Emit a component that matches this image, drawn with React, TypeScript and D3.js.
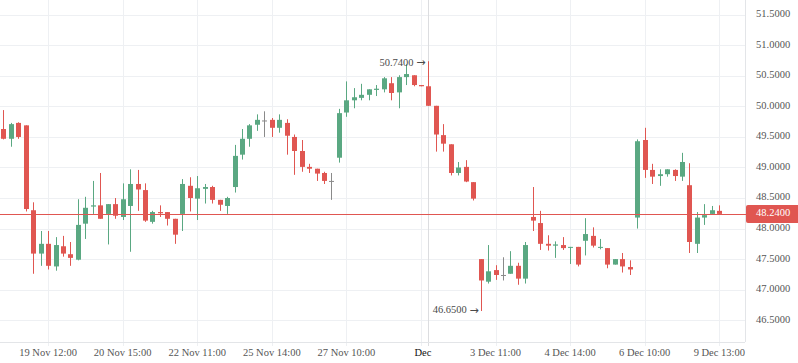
import React from "react";
import * as d3 from "d3";

const opens = [49.63,49.47,49.73,49.69,48.30,47.59,47.75,47.38,47.71,47.58,47.49,48.08,48.36,48.38,48.24,48.40,48.19,48.37,48.73,48.63,48.11,48.27,48.27,48.16,48.24,48.70,48.49,48.65,48.68,48.47,48.37,48.68,49.21,49.47,49.70,49.77,49.78,49.65,49.73,49.50,49.27,49.01,48.98,48.91,48.78,49.16,49.90,50.10,50.14,50.19,50.27,50.28,50.38,50.23,50.48,50.51,50.35,50.33,50.01,49.53,49.38,48.91,49.01,48.76,47.50,47.13,47.32,47.24,47.26,47.39,47.18,48.19,48.09,47.75,47.72,47.73,47.69,47.70,47.80,47.88,47.69,47.68,47.41,47.50,47.37,48.18,49.45,48.96,48.86,48.89,48.96,48.85,48.71,47.75,48.18,48.24,48.29];
const highs = [49.94,49.73,49.74,49.69,48.43,47.96,47.96,47.86,47.88,47.78,48.48,48.52,48.78,48.91,48.40,48.50,48.74,48.97,48.96,48.74,48.29,48.38,48.27,48.16,48.81,48.84,48.86,48.73,48.70,48.47,48.52,49.37,49.63,49.71,49.87,49.92,49.81,49.87,49.79,49.54,49.45,49.06,48.98,48.93,48.91,49.96,50.41,50.30,50.37,50.28,50.35,50.48,50.48,50.51,50.69,50.51,50.35,50.74,50.01,49.71,49.38,49.09,49.12,48.76,47.50,47.73,47.40,47.53,47.63,47.44,47.78,48.68,48.29,47.89,47.79,47.86,47.70,47.70,48.17,48.02,47.83,47.68,47.50,47.60,47.48,49.46,49.65,49.06,48.97,48.97,48.97,49.24,49.07,48.27,48.40,48.37,48.38];
const lows = [49.46,49.34,49.47,48.28,47.26,47.39,47.33,47.31,47.54,47.39,47.48,47.83,48.24,48.16,47.74,48.16,48.14,47.62,48.29,48.11,48.08,48.19,48.05,47.75,47.96,48.28,48.14,48.41,48.41,48.29,48.24,48.59,49.13,49.34,49.60,49.50,49.50,49.57,49.21,48.88,48.93,48.91,48.78,48.73,48.47,49.08,49.83,49.97,50.10,50.10,50.17,50.23,50.10,49.97,50.35,50.33,50.33,50.01,49.26,49.26,48.87,48.87,48.76,48.46,46.65,47.10,47.16,47.15,47.26,47.08,47.10,47.96,47.65,47.64,47.52,47.65,47.42,47.38,47.56,47.69,47.66,47.35,47.41,47.28,47.24,48.00,48.83,48.73,48.70,48.85,48.78,48.78,47.60,47.60,48.06,48.23,48.24];
const closes = [49.47,49.71,49.50,48.32,47.59,47.75,47.39,47.73,47.59,47.52,48.06,48.34,48.38,48.16,48.40,48.21,48.48,48.73,48.64,48.13,48.27,48.25,48.16,47.90,48.73,48.50,48.66,48.68,48.47,48.39,48.50,49.19,49.47,49.69,49.78,49.77,49.65,49.78,49.52,49.27,49.01,48.98,48.90,48.78,48.78,49.89,50.10,50.15,50.19,50.28,50.29,50.46,50.22,50.48,50.53,50.35,50.33,50.01,49.54,49.39,48.91,49.00,48.77,48.49,47.15,47.30,47.24,47.24,47.39,47.18,47.73,48.13,47.75,47.72,47.74,47.68,47.70,47.41,47.91,47.72,47.70,47.41,47.50,47.38,47.33,49.43,48.96,48.85,48.89,48.97,48.86,49.09,47.78,48.18,48.22,48.30,48.24];

const timeTickIndex = [6, 16, 26, 36, 46, 56, 66, 76, 86, 96];
const timeTickLabels = ["19 Nov 12:00","20 Nov 15:00","22 Nov 11:00","25 Nov 14:00","27 Nov 10:00","Dec","3 Dec 11:00","4 Dec 14:00","6 Dec 10:00","9 Dec 13:00"];
const priceTicks = [46.5,47.0,47.5,48.0,48.5,49.0,49.5,50.0,50.5,51.0,51.5];
const lastPrice = 48.24;
const crosshairIndex = 57;
const highMarkIndex = 57;
const highMarkValue = 50.74;
const lowMarkIndex = 64;
const lowMarkValue = 46.65;

const W = 798, H = 363;
const plotRight = 745, plotBottom = 342;
const UP = "#5aa882", DOWN = "#e05651", NEUTRAL = "#8a8a8a";
const GRID = "#eef0f3";
const FONT = "'Liberation Serif', 'Times New Roman', serif";
const ARROW_FONT = "'DejaVu Sans', sans-serif";

export default function App() {
  const x = d3.scaleLinear().domain([0, 96]).range([3.3, 719.3]);
  const y = d3.scaleLinear().domain([46.1425, 51.7425]).range([plotBottom, 0]);
  const bw = 5;
  return (
    <svg width={W} height={H} style={{ position: "fixed", left: 0, top: 0, background: "#fff" }}>
      <rect x={0} y={0} width={W} height={H} fill="#fff" />
      {priceTicks.map((p) => (
        <line key={"hg" + p} x1={0} x2={plotRight} y1={Math.round(y(p)) + 0.5} y2={Math.round(y(p)) + 0.5} stroke={GRID} strokeWidth={1} />
      ))}
      {timeTickIndex.map((i) => (
        <line key={"vg" + i} x1={Math.round(x(i)) + 0.5} x2={Math.round(x(i)) + 0.5} y1={0} y2={plotBottom + 4} stroke={GRID} strokeWidth={1} />
      ))}
      <line x1={Math.round(x(crosshairIndex)) + 0.5} x2={Math.round(x(crosshairIndex)) + 0.5} y1={0} y2={plotBottom + 4} stroke="#dcdde0" strokeWidth={1} />
      <line x1={plotRight + 0.5} x2={plotRight + 0.5} y1={0} y2={plotBottom} stroke="#e3e5e8" />
      <line x1={0} x2={plotRight} y1={plotBottom + 0.5} y2={plotBottom + 0.5} stroke="#e3e5e8" />
      {opens.map((o, i) => {
        const c = closes[i];
        const col = c > o ? UP : c < o ? DOWN : NEUTRAL;
        const cx = Math.round(x(i));
        const top = y(Math.max(o, c));
        const bot = y(Math.min(o, c));
        return (
          <g key={"c" + i}>
            <rect x={cx} y={y(highs[i])} width={1} height={Math.max(1, y(lows[i]) - y(highs[i]))} fill={col} />
            <rect x={cx - 2} y={top} width={bw} height={Math.max(1, bot - top)} fill={col} />
          </g>
        );
      })}
      <line x1={0} x2={plotRight + 3} y1={Math.round(y(lastPrice)) + 0.5} y2={Math.round(y(lastPrice)) + 0.5} stroke={DOWN} strokeWidth={1} />
      <text x={x(highMarkIndex) - 3} y={y(highMarkValue) + 2} textAnchor="end" dominantBaseline="middle" fontFamily={FONT} fontSize={10.5} fill="#4a4a4a">
        {highMarkValue.toFixed(4)} <tspan fontFamily={ARROW_FONT} fontSize={11}>→</tspan>
      </text>
      <text x={x(lowMarkIndex) - 2} y={y(lowMarkValue)} textAnchor="end" dominantBaseline="middle" fontFamily={FONT} fontSize={10.5} fill="#4a4a4a">
        {lowMarkValue.toFixed(4)} <tspan fontFamily={ARROW_FONT} fontSize={11}>→</tspan>
      </text>
      {priceTicks.map((p) => (
        <text key={"pt" + p} x={756} y={y(p)} dominantBaseline="middle" fontFamily={FONT} fontSize={10.5} fill="#555">{p.toFixed(4)}</text>
      ))}
      <path d={`M${plotRight + 3},${y(lastPrice) - 9} H${W} V${y(lastPrice) + 9} H${plotRight + 3} Q${plotRight + 1},${y(lastPrice) + 9} ${plotRight + 1},${y(lastPrice) + 7} V${y(lastPrice) - 7} Q${plotRight + 1},${y(lastPrice) - 9} ${plotRight + 3},${y(lastPrice) - 9} Z`} fill={DOWN} />
      <text x={756} y={y(lastPrice)} dominantBaseline="middle" fontFamily={FONT} fontSize={10.5} fill="#fff">{lastPrice.toFixed(4)}</text>
      {timeTickIndex.map((i, k) => (
        <text key={"tl" + i} x={x(i) + (timeTickLabels[k] === "Dec" ? 2 : 0)} y={354} textAnchor="middle" dominantBaseline="middle" fontFamily={FONT} fontSize={10.5} fill={timeTickLabels[k] === "Dec" ? "#111" : "#555"}>{timeTickLabels[k]}</text>
      ))}
    </svg>
  );
}
